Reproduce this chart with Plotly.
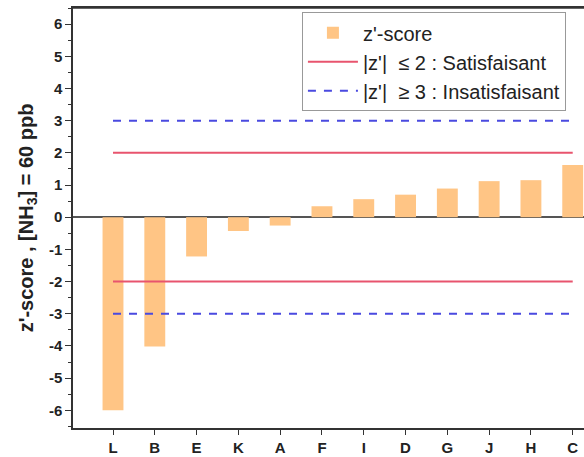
import plotly.graph_objects as go

# Laboratories, ordered by z'-score
labs = ["L", "B", "E", "K", "A", "F", "I", "D", "G", "J", "H", "C"]
z_scores = [-6.0, -4.02, -1.22, -0.43, -0.26, 0.34, 0.56, 0.70, 0.89, 1.12, 1.15, 1.62]

# Acceptance limits
satisf_limit = 2
insatisf_limit = 3

y_ticks = list(range(-6, 7))

font_family = "Liberation Sans, Arial, sans-serif"

fig = go.Figure()

fig.add_trace(go.Bar(
    x=labs, y=z_scores, name="z'-score",
    marker=dict(color="#FFC585", line=dict(width=0)),
    width=0.5,
))

for sign in (1, -1):
    fig.add_trace(go.Scatter(
        x=[labs[0], labs[-1]], y=[sign * satisf_limit] * 2, mode="lines",
        line=dict(color="#E8546E", width=2),
        name="|z'|  ≤ 2 : Satisfaisant", showlegend=(sign == 1),
        legendgroup="s",
    ))
for sign in (1, -1):
    fig.add_trace(go.Scatter(
        x=[labs[0], labs[-1]], y=[sign * insatisf_limit] * 2, mode="lines",
        line=dict(color="#4A4AE0", width=2, dash="8px,8px"),
        name="|z'|  ≥ 3 : Insatisfaisant", showlegend=(sign == 1),
        legendgroup="i",
    ))

fig.update_layout(
    width=584, height=457,
    margin=dict(l=73, r=0, t=8, b=29),
    plot_bgcolor="white", paper_bgcolor="white",
    font=dict(family=font_family, color="#222"),
    showlegend=True,
    legend=dict(
        x=0.448, y=0.99, xanchor="left", yanchor="top",
        bordercolor="#999", borderwidth=1, bgcolor="white",
        font=dict(size=20, family=font_family, color="#222"),
        tracegroupgap=0, itemwidth=50,
    ),
    bargap=0.5,
)

fig.update_xaxes(
    range=[-0.957, 11.27],
    showline=True, linecolor="#333", linewidth=1.5, mirror=True,
    ticks="outside", ticklen=5, tickcolor="#333",
    tickfont=dict(size=15, family=font_family, color="#222", weight="bold"),
    showgrid=False, zeroline=False,
)

fig.update_yaxes(
    range=[-6.55, 6.5],
    tickvals=y_ticks, ticktext=[str(v) for v in y_ticks],
    showline=True, linecolor="#333", linewidth=1.5, mirror=False,
    ticks="outside", ticklen=6, tickcolor="#333",
    minor=dict(ticks="outside", ticklen=3, dtick=0.5, tickcolor="#333", showgrid=False),
    tickfont=dict(size=15, family=font_family, color="#222", weight="bold"),
    showgrid=False,
    zeroline=True, zerolinecolor="#555", zerolinewidth=1.5,
    title=dict(text="z'-score , [NH<sub>3</sub>] = 60 ppb",
               font=dict(size=20, family=font_family, color="#222", weight="bold"),
               standoff=10),
)

# top frame line
fig.add_shape(type="line", xref="paper", yref="paper", x0=0, x1=1, y0=1, y1=1,
              line=dict(color="#333", width=1.5))

fig.write_html("out.html")
